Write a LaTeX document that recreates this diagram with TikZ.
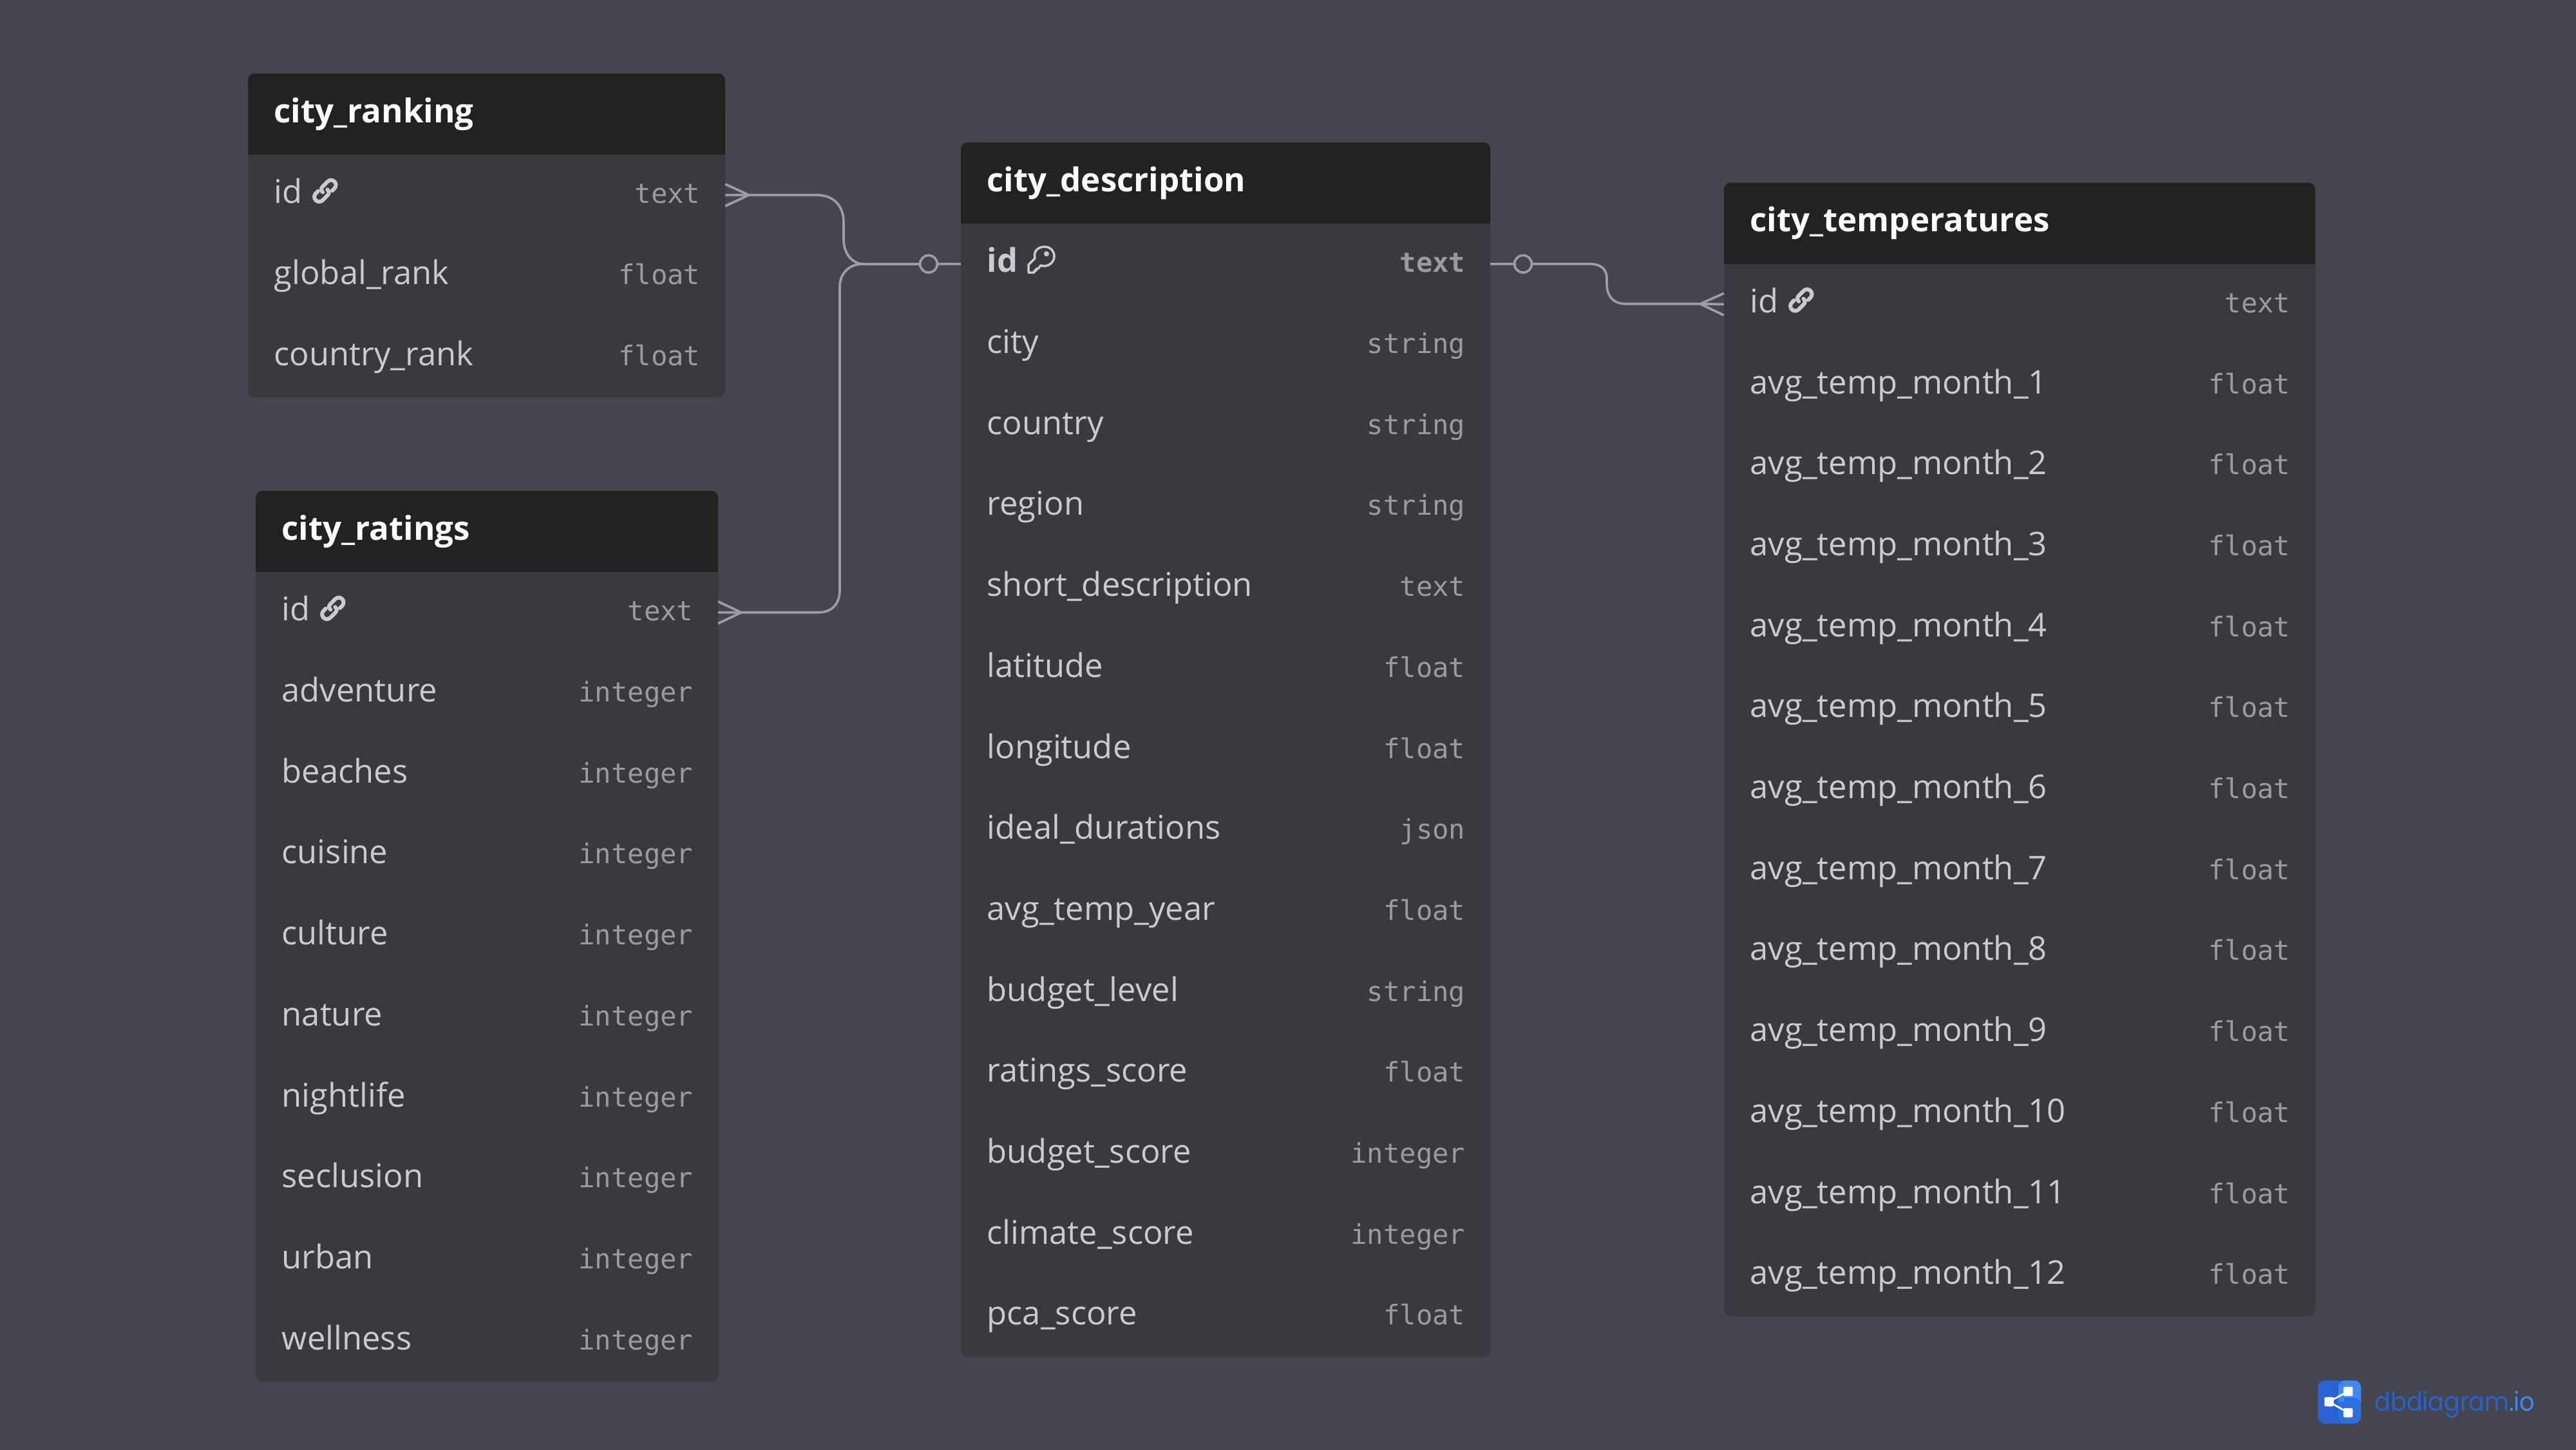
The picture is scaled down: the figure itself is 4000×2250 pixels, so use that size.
\documentclass[tikz,border=0pt]{standalone}
\usepackage{fontspec}
\setmainfont{Open Sans}
\setmonofont{DejaVu Sans Mono}
\newfontfamily\logofont[FakeStretch=0.895]{Poppins}
\usetikzlibrary{calc}

\definecolor{pagefill}{HTML}{44454D}
\definecolor{bodyfill}{HTML}{393A40}
\definecolor{headfill}{HTML}{222222}
\definecolor{fieldcol}{HTML}{CBCBCB}
\definecolor{typecol}{HTML}{9B9B9B}
\definecolor{linkcol}{HTML}{9D9DA8}
\definecolor{logodark}{HTML}{2762D0}
\definecolor{logomid}{HTML}{2A70DE}
\definecolor{logolight}{HTML}{3F87F7}

\tikzset{
	rowbox/.style={minimum height=35.7pt, inner sep=0pt, outer sep=0pt},
	titletext/.style={inner sep=0pt, white, font=\fontsize{14.5}{18}\selectfont\bfseries},
	fieldtext/.style={inner sep=0pt, fieldcol, font=\fontsize{14.42}{18}\selectfont},
	typetext/.style={inner sep=0pt, typecol, font=\fontsize{12}{14}\selectfont\ttfamily},
	relline/.style={linkcol, line width=1.05pt},
	iconline/.style={fieldcol, line width=1.7pt, line cap=round},
	logobox/.style={fill=white, rounded corners=0.6pt, minimum size=4.1pt, inner sep=0pt, outer sep=0pt}
}

% name, left, right, top, number of rows, title, rows
\newcommand{\dbtable}[7]{
	\pgfmathsetmacro{\tabbot}{#4+126+#5*125.7}
	\fill[bodyfill, rounded corners=3pt] (#2,#4) rectangle (#3,\tabbot);
	\fill[headfill, rounded corners=3pt] (#2,#4) rectangle (#3,#4+60);
	\fill[headfill] (#2,#4+30) rectangle (#3,#4+126);
	\node[titletext, anchor=base west] (#1title) at (#2+40,#4+76) {#6};
	\foreach \fname/\ftype [count=\i] in {#7} {
		\pgfmathsetmacro{\rowy}{#4+126+(\i-0.5)*125.7}
		\pgfmathsetlengthmacro{\roww}{(#3-#2)*0.2845pt}
		\node[rowbox, minimum width=\roww] (#1\i) at ({(#2+#3)/2},\rowy) {};
		\node[fieldtext, anchor=base west] (#1\i f) at (#2+40,\rowy+13) {\fname};
		\node[typetext, anchor=base east] (#1\i t) at (#3-38,\rowy+13) {\ftype};
	}
}

\newcommand{\linkicon}[1]{
	\begin{scope}[shift={($(#1.west)+(120,-6.5)$)}, x=0.2845pt, y=0.2845pt, rotate=45]
		\draw[iconline] (-4,1) .. controls (-4,5) and (-2,7.5) .. (2,7.5) -- (13,7.5)
			arc[start angle=90, end angle=-90, radius=7.5] -- (8,-7.5);
		\draw[iconline] (4,-1) .. controls (4,-5) and (2,-7.5) .. (-2,-7.5) -- (-13,-7.5)
			arc[start angle=270, end angle=90, radius=7.5] -- (-8,7.5);
	\end{scope}
}

\begin{document}
\begin{tikzpicture}[x=0.01cm, y=-0.01cm]
	\useasboundingbox (0,0) rectangle (4000,2250);
	\fill[pagefill] (-5,-5) rectangle (4005,2255);

	\dbtable{rank}{385}{1126}{114}{3}{city\_ranking}{
		id/text, global\_rank/float, country\_rank/float}
	\dbtable{rate}{397}{1115}{762}{10}{city\_ratings}{
		id/text, adventure/integer, beaches/integer, cuisine/integer, culture/integer,
		nature/integer, nightlife/integer, seclusion/integer, urban/integer, wellness/integer}
	\dbtable{desc}{1492}{2314}{221}{14}{city\_description}{
		\textbf{id}/\textbf{text}, city/string, country/string, region/string,
		short\_description/text, latitude/float, longitude/float, ideal\_durations/json,
		avg\_temp\_year/float, budget\_level/string, ratings\_score/float,
		budget\_score/integer, climate\_score/integer, pca\_score/float}
	\dbtable{temp}{2677}{3595}{283.5}{13}{city\_temperatures}{
		id/text, avg\_temp\_month\_1/float, avg\_temp\_month\_2/float, avg\_temp\_month\_3/float,
		avg\_temp\_month\_4/float, avg\_temp\_month\_5/float, avg\_temp\_month\_6/float,
		avg\_temp\_month\_7/float, avg\_temp\_month\_8/float, avg\_temp\_month\_9/float,
		avg\_temp\_month\_10/float, avg\_temp\_month\_11/float, avg\_temp\_month\_12/float}

	\linkicon{rank1}
	\linkicon{rate1}
	\linkicon{temp1}

	\draw[fieldcol, line width=1pt, line join=round] (1607,401)
		.. controls (1604,388) and (1614,383) .. (1622,383)
		.. controls (1632,383) and (1637,391) .. (1637,398)
		.. controls (1637,408) and (1626,416) .. (1616,412)
		-- (1612,417) -- (1609,417) -- (1609,420) -- (1606,420) -- (1606,423) -- (1597,423) -- (1597,411) -- cycle;
	\fill[fieldcol] (1625,394) circle (4);

	\begin{scope}[relline]
		\coordinate (crowrank) at (1163,302.75);
		\coordinate (crowrate) at (1151,950.75);
		\coordinate (crowtemp) at (2640,471.75);
		\coordinate (joindesc) at (1340,409.75);
		\coordinate (jointemp) at (2495,440);

		\node[draw, circle, minimum size=7.6pt, inner sep=0pt] (zerodesc) at (1442,409.75) {};
		\node[draw, circle, minimum size=7.6pt, inner sep=0pt] (zerotemp) at (2365,409.75) {};

		\draw (rank1.east) -- (crowrank);
		\draw (rank1.east)+(0,-17) -- (crowrank) -- ($(rank1.east)+(0,17)$);
		\draw (rate1.east) -- (crowrate);
		\draw (rate1.east)+(0,-17) -- (crowrate) -- ($(rate1.east)+(0,17)$);
		\draw (temp1.west) -- (crowtemp);
		\draw (temp1.west)+(0,-17) -- (crowtemp) -- ($(temp1.west)+(0,17)$);

		\draw (desc1.west) -- (zerodesc);
		\draw (zerodesc) -- (joindesc);
		\draw (crowrank) -- (1268,302.75) .. controls (1295,302.75) and (1310,320) .. (1310,345)
			-- (1310,372) .. controls (1310,395) and (1325,409.75) .. (joindesc);
		\draw (crowrate) -- (1270,950.75) .. controls (1292,950.75) and (1304,938) .. (1304,915)
			-- (1304,445) .. controls (1304,425) and (1318,409.75) .. (joindesc);

		\draw (desc1.east) -- (zerotemp);
		\draw (zerotemp) -- (2470,409.75) .. controls (2485,409.75) and (2495,418) .. (2495,432)
			-- (jointemp) .. controls (2495,460) and (2505,471.75) .. (2525,471.75) -- (crowtemp);
	\end{scope}

	\begin{scope}
		\fill[logodark, rounded corners=3pt] (3599,2143) rectangle (3666,2210);
		\fill[logolight, rounded corners=3pt] (3631,2143) rectangle (3666,2190);
		\fill[logomid, rounded corners=3pt] (3631,2170) rectangle (3666,2210);
		\fill[logodark] (3599,2176) rectangle (3631,2190);
		\fill[logolight] (3631,2143+15) rectangle (3640,2176);
		\fill[logomid] (3631,2176) rectangle (3666,2195);
		\node[logobox] (logotop) at (3646,2160) {};
		\node[logobox] (logomain) at (3616.5,2176) {};
		\node[logobox] (logobot) at (3646,2193) {};
		\draw[white, line width=0.8pt] (logomain) -- (logotop);
		\draw[white, line width=0.8pt] (logomain) -- (logobot);
		\node[anchor=base west, inner sep=0pt, font=\fontsize{11.6}{14}\selectfont\logofont] (logotext)
			at (3687,2190) {\textcolor{logodark}{dbdiagram}\textcolor{logolight}{.io}};
	\end{scope}
\end{tikzpicture}
\end{document}
